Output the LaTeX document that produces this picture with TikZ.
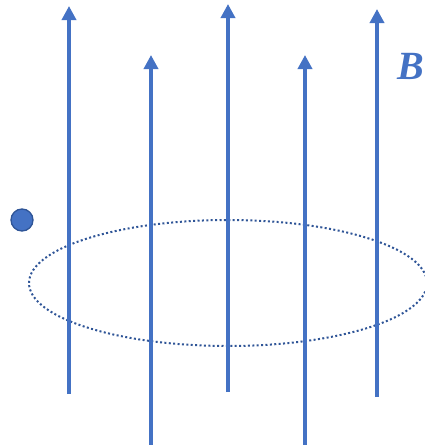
\documentclass[tikz,border=0pt]{standalone}
\usepackage{fontspec}
\setmainfont{Liberation Serif}
\usetikzlibrary{arrows.meta}
\definecolor{fieldblue}{HTML}{4472C4}
\definecolor{darkblue}{HTML}{2F5597}
\tikzset{
  fieldline/.style={draw=fieldblue, line width=4.5pt, -{Triangle[width=14pt,length=14pt]}},
  loop/.style={draw=darkblue, line width=2pt, dash pattern=on 2pt off 2.4pt},
  charge/.style={circle, fill=fieldblue, draw=darkblue, line width=1.3pt, minimum size=22pt, inner sep=0pt}
}
\begin{document}
\begin{tikzpicture}[x=1pt,y=-1pt]
\useasboundingbox (0,0) rectangle (425,445);
\draw[loop] (228,283) ellipse [x radius=199, y radius=63];
\coordinate (a1) at (69,394); \coordinate (b1) at (69,6);
\coordinate (a2) at (151,446); \coordinate (b2) at (151,55);
\coordinate (a3) at (228,392); \coordinate (b3) at (228,4);
\coordinate (a4) at (305,446); \coordinate (b4) at (305,55);
\coordinate (a5) at (377,397); \coordinate (b5) at (377,9);
\draw[fieldline] (a1) -- (b1);
\draw[fieldline] (a2) -- (b2);
\draw[fieldline] (a3) -- (b3);
\draw[fieldline] (a4) -- (b4);
\draw[fieldline] (a5) -- (b5);
\node[charge] (q) at (22,220) {};
\node[text=fieldblue, font=\fontsize{40}{40}\selectfont\bfseries\itshape, inner sep=0pt] (B) at (411,66) {B};
\end{tikzpicture}
\end{document}
